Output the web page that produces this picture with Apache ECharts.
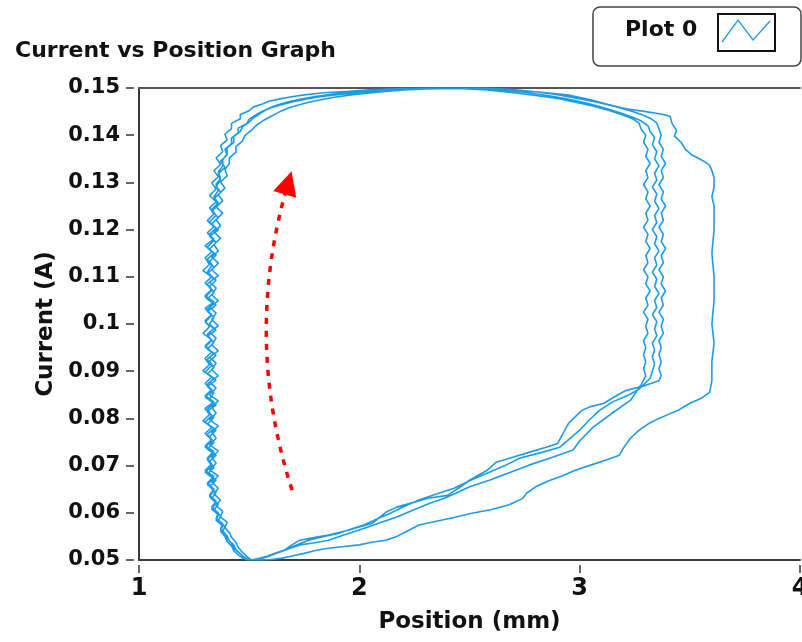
<!DOCTYPE html>
<html>
<head>
<meta charset="utf-8">
<script src="https://cdn.jsdelivr.net/npm/echarts@6/dist/echarts.min.js"></script>
<style>
html,body{margin:0;padding:0;background:#fff;}
#chart{width:802px;height:642px;}
</style>
</head>
<body>
<div id="chart"></div>
<script>
// ---- Data (position in mm, current in A) ----
const cycleOuter = [
  [1.52,0.0500],[1.50,0.0500],[1.47,0.0508],[1.45,0.0517],[1.43,0.0525],[1.42,0.0536],[1.40,0.0545],[1.39,0.0556],[1.37,0.0566],[1.38,0.0577],[1.35,0.0588],[1.36,0.0600],[1.33,0.0612],[1.35,0.0625],[1.32,0.0637],[1.34,0.0650],
  [1.31,0.0663],[1.34,0.0677],[1.30,0.0690],[1.33,0.0703],[1.31,0.0716],[1.34,0.0730],[1.30,0.0742],[1.33,0.0755],[1.30,0.0768],[1.33,0.0781],[1.29,0.0795],[1.32,0.0808],[1.30,0.0821],[1.34,0.0835],[1.30,0.0848],[1.33,0.0861],[1.30,0.0874],[1.33,0.0888],[1.29,0.0901],[1.32,0.0914],[1.30,0.0927],[1.33,0.0941],[1.30,0.0954],[1.33,0.0967],[1.29,0.0980],[1.32,0.0994],[1.30,0.1007],[1.33,0.1020],[1.30,0.1033],[1.34,0.1047],[1.30,0.1060],[1.33,0.1073],[1.30,0.1087],[1.33,0.1100],[1.29,0.1113],[1.32,0.1126],[1.30,0.1140],[1.33,0.1153],[1.30,0.1166],[1.34,0.1180],[1.31,0.1193],[1.34,0.1206],[1.31,0.1219],[1.34,0.1233],[1.32,0.1246],[1.35,0.1259],[1.32,0.1272],[1.35,0.1286],[1.33,0.1299],[1.36,0.1312],[1.34,0.1325],[1.37,0.1338],[1.35,0.1352],[1.38,0.1365],[1.37,0.1378],[1.40,0.1390],[1.39,0.1402],[1.42,0.1414],[1.42,0.1425],[1.46,0.1435],[1.46,0.1444],[1.50,0.1452],[1.52,0.1460],[1.56,0.1466],[1.59,0.1472],[1.64,0.1477],[1.70,0.1482],[1.76,0.1486],[1.84,0.1490],[1.95,0.1493],[2.05,0.1496],[2.20,0.1499],[2.35,0.1500],[2.50,0.1500],[2.62,0.1498],[2.75,0.1494],[2.85,0.1490],[2.95,0.1485],[3.05,0.1475],[3.13,0.1465],[3.21,0.1456],[3.30,0.1450],[3.38,0.1444],[3.41,0.1440],[3.42,0.1424],[3.44,0.1410],[3.43,0.1398],[3.46,0.1385],[3.48,0.1370],[3.51,0.1358],[3.56,0.1346],[3.59,0.1336],[3.60,0.1325],[3.61,0.1310],[3.61,0.1290],[3.60,0.1270],[3.61,0.1250],[3.61,0.1200],[3.60,0.1150],[3.61,0.1100],[3.61,0.1050],[3.60,0.1000],[3.61,0.0960],[3.60,0.0920],[3.60,0.0880],[3.59,0.0855],[3.55,0.0842],[3.50,0.0832],[3.45,0.0818],[3.40,0.0808],[3.36,0.0800],[3.31,0.0788],[3.27,0.0775],[3.23,0.0758],[3.20,0.0738],[3.18,0.0722],[3.12,0.0712],[3.05,0.0701],[2.98,0.0690],[2.92,0.0678],[2.86,0.0668],[2.80,0.0655],[2.76,0.0642],[2.74,0.0630],[2.68,0.0617],[2.60,0.0607],[2.50,0.0598],[2.44,0.0591],[2.36,0.0583],[2.27,0.0574],[2.22,0.0562],[2.17,0.0550],[2.12,0.0542],[2.05,0.0537],[2.00,0.0532],[1.92,0.0528],[1.86,0.0525],[1.80,0.0520],[1.75,0.0514],[1.70,0.0509],[1.65,0.0504],[1.60,0.0501],[1.55,0.0500]
];
const cycleInnerA = [
  [1.50,0.0500],[1.48,0.0505],[1.46,0.0513],[1.44,0.0522],[1.43,0.0532],[1.41,0.0540],[1.40,0.0551],[1.38,0.0560],[1.39,0.0571],[1.36,0.0582],[1.37,0.0594],[1.34,0.0606],[1.36,0.0618],[1.33,0.0630],[1.35,0.0643],
  [1.32,0.0656],[1.35,0.0669],[1.31,0.0682],[1.34,0.0696],[1.32,0.0709],[1.35,0.0722],[1.31,0.0735],[1.34,0.0749],[1.32,0.0762],[1.35,0.0775],[1.31,0.0788],[1.34,0.0802],[1.31,0.0815],[1.35,0.0828],[1.32,0.0841],[1.34,0.0855],[1.31,0.0868],[1.35,0.0881],[1.31,0.0894],[1.34,0.0908],[1.32,0.0921],[1.35,0.0934],[1.31,0.0947],[1.34,0.0961],[1.31,0.0974],[1.35,0.0987],[1.32,0.1000],[1.34,0.1014],[1.31,0.1027],[1.35,0.1040],[1.31,0.1053],[1.34,0.1067],[1.32,0.1080],[1.35,0.1093],[1.31,0.1106],[1.34,0.1120],[1.32,0.1133],[1.35,0.1146],[1.32,0.1159],[1.35,0.1173],[1.32,0.1186],[1.36,0.1199],[1.33,0.1212],[1.36,0.1226],[1.33,0.1239],[1.36,0.1252],[1.34,0.1265],[1.37,0.1279],[1.35,0.1292],[1.37,0.1305],[1.36,0.1318],[1.39,0.1332],[1.37,0.1345],[1.40,0.1358],[1.39,0.1370],[1.42,0.1382],[1.42,0.1394],[1.45,0.1405],[1.45,0.1415],[1.49,0.1425],[1.50,0.1434],[1.53,0.1443],[1.56,0.1451],[1.60,0.1458],[1.65,0.1465],[1.70,0.1471],[1.76,0.1477],[1.83,0.1482],[1.92,0.1487],[2.02,0.1491],[2.15,0.1495],[2.30,0.1498],[2.45,0.1499],[2.58,0.1496],[2.70,0.1490],[2.80,0.1484],[2.90,0.1478],[2.98,0.1470],[3.06,0.1462],[3.13,0.1453],[3.19,0.1444],[3.24,0.1435],[3.27,0.1425],[3.28,0.1412],[3.30,0.1400],
  [3.29,0.1385],[3.31,0.1370],[3.30,0.1355],[3.32,0.1340],[3.30,0.1325],[3.31,0.1310],[3.29,0.1295],[3.31,0.1280],[3.30,0.1265],[3.32,0.1250],[3.30,0.1235],[3.31,0.1220],[3.29,0.1205],[3.31,0.1190],[3.30,0.1175],[3.32,0.1160],[3.30,0.1145],[3.31,0.1130],[3.29,0.1115],[3.31,0.1100],[3.30,0.1085],[3.32,0.1070],[3.30,0.1055],[3.31,0.1040],[3.29,0.1025],[3.31,0.1010],[3.30,0.0995],[3.31,0.0980],[3.29,0.0965],[3.30,0.0950],[3.29,0.0935],[3.30,0.0920],[3.29,0.0905],[3.30,0.0890],
  [3.28,0.0872],[3.23,0.0838],[3.15,0.0812],[3.06,0.0781],[3.00,0.0752],[2.97,0.0733],[2.88,0.0718],[2.77,0.0701],[2.68,0.0685],[2.59,0.0669],[2.50,0.0655],[2.44,0.0642],[2.38,0.0630],[2.32,0.0620],[2.24,0.0605],[2.17,0.0591],[2.10,0.0580],[2.04,0.0570],[1.95,0.0556],[1.86,0.0542],[1.79,0.0536],[1.73,0.0532],[1.68,0.0524],[1.64,0.0517],[1.60,0.0510],[1.55,0.0504],[1.51,0.0500]
];
const cycleInnerB = [
  [1.51,0.0500],[1.49,0.0507],[1.47,0.0516],[1.45,0.0527],[1.44,0.0537],[1.42,0.0548],[1.41,0.0558],[1.39,0.0569],[1.40,0.0580],[1.37,0.0591],[1.38,0.0603],[1.35,0.0615],[1.37,0.0627],[1.34,0.0640],
  [1.36,0.0652],[1.33,0.0665],[1.36,0.0678],[1.32,0.0691],[1.35,0.0705],[1.33,0.0718],[1.36,0.0731],[1.32,0.0744],[1.35,0.0758],[1.33,0.0771],[1.36,0.0784],[1.32,0.0797],[1.35,0.0811],[1.33,0.0824],[1.36,0.0837],[1.32,0.0850],[1.35,0.0864],[1.32,0.0877],[1.36,0.0890],[1.33,0.0903],[1.35,0.0917],[1.32,0.0930],[1.36,0.0943],[1.33,0.0956],[1.35,0.0970],[1.32,0.0983],[1.36,0.0996],[1.33,0.1009],[1.35,0.1023],[1.32,0.1036],[1.36,0.1049],[1.33,0.1062],[1.35,0.1076],[1.32,0.1089],[1.36,0.1102],[1.33,0.1115],[1.36,0.1129],[1.33,0.1142],[1.36,0.1155],[1.34,0.1168],[1.37,0.1182],[1.34,0.1195],[1.37,0.1208],[1.35,0.1221],[1.38,0.1235],[1.35,0.1248],[1.38,0.1261],[1.36,0.1274],[1.39,0.1288],[1.37,0.1301],[1.40,0.1314],[1.39,0.1327],[1.41,0.1340],[1.41,0.1352],[1.44,0.1364],[1.44,0.1376],[1.47,0.1388],[1.48,0.1399],[1.51,0.1410],[1.53,0.1420],[1.56,0.1430],[1.60,0.1440],[1.64,0.1450],[1.68,0.1458],[1.74,0.1466],[1.80,0.1473],[1.88,0.1480],[1.97,0.1486],[2.08,0.1491],[2.20,0.1496],[2.35,0.1499],[2.50,0.1500],[2.62,0.1497],[2.73,0.1492],[2.84,0.1485],[2.94,0.1477],[3.03,0.1468],[3.11,0.1458],[3.18,0.1448],[3.24,0.1438],[3.28,0.1430],[3.31,0.1420],[3.32,0.1408],[3.34,0.1395],
  [3.33,0.1380],[3.35,0.1365],[3.34,0.1350],[3.36,0.1335],[3.34,0.1320],[3.35,0.1305],[3.33,0.1290],[3.35,0.1275],[3.34,0.1260],[3.36,0.1245],[3.34,0.1230],[3.35,0.1215],[3.33,0.1200],[3.35,0.1185],[3.34,0.1170],[3.36,0.1155],[3.34,0.1140],[3.35,0.1125],[3.33,0.1110],[3.35,0.1095],[3.34,0.1080],[3.36,0.1065],[3.34,0.1050],[3.35,0.1035],[3.33,0.1020],[3.35,0.1005],[3.34,0.0990],[3.35,0.0975],[3.33,0.0960],[3.34,0.0945],[3.33,0.0930],[3.34,0.0915],[3.33,0.0900],
  [3.32,0.0885],[3.27,0.0862],[3.22,0.0849],[3.15,0.0835],[3.09,0.0817],[3.04,0.0795],[3.00,0.0775],[2.95,0.0755],[2.91,0.0739],[2.82,0.0727],[2.73,0.0716],[2.66,0.0700],[2.59,0.0686],[2.51,0.0670],[2.43,0.0652],[2.35,0.0640],[2.27,0.0627],[2.20,0.0613],[2.14,0.0599],[2.08,0.0587],[2.02,0.0574],[1.96,0.0565],[1.91,0.0557],[1.84,0.0550],[1.77,0.0542],[1.72,0.0533],[1.68,0.0525],[1.63,0.0516],[1.59,0.0508],[1.55,0.0502],[1.52,0.0500]
];
const cycleInnerC = [
  [1.49,0.0500],[1.47,0.0504],[1.45,0.0511],[1.43,0.0520],[1.42,0.0530],[1.40,0.0539],[1.39,0.0550],[1.37,0.0561],[1.38,0.0572],[1.35,0.0584],[1.36,0.0596],[1.33,0.0608],[1.35,0.0621],[1.32,0.0634],[1.34,0.0647],
  [1.31,0.0660],[1.34,0.0673],[1.30,0.0686],[1.33,0.0700],[1.31,0.0713],[1.34,0.0726],[1.30,0.0739],[1.33,0.0753],[1.31,0.0766],[1.34,0.0779],[1.30,0.0792],[1.33,0.0806],[1.31,0.0819],[1.34,0.0832],[1.30,0.0845],[1.33,0.0859],[1.31,0.0872],[1.34,0.0885],[1.30,0.0898],[1.33,0.0912],[1.31,0.0925],[1.34,0.0938],[1.30,0.0951],[1.33,0.0965],[1.31,0.0978],[1.34,0.0991],[1.30,0.1004],[1.33,0.1018],[1.31,0.1031],[1.34,0.1044],[1.30,0.1057],[1.33,0.1071],[1.31,0.1084],[1.34,0.1097],[1.31,0.1110],[1.33,0.1124],[1.31,0.1137],[1.34,0.1150],[1.31,0.1163],[1.34,0.1177],[1.32,0.1190],[1.35,0.1203],[1.32,0.1216],[1.35,0.1230],[1.33,0.1243],[1.36,0.1256],[1.34,0.1269],[1.36,0.1283],[1.35,0.1296],[1.37,0.1309],[1.36,0.1322],[1.38,0.1335],[1.38,0.1348],[1.40,0.1361],[1.40,0.1373],[1.43,0.1385],[1.43,0.1397],[1.46,0.1408],[1.47,0.1418],[1.50,0.1428],[1.52,0.1437],[1.55,0.1446],[1.58,0.1455],[1.62,0.1463],[1.67,0.1470],[1.73,0.1476],[1.80,0.1482],[1.88,0.1487],[1.98,0.1492],[2.10,0.1496],[2.25,0.1499],[2.40,0.1500],[2.55,0.1500],[2.68,0.1497],[2.80,0.1492],[2.90,0.1486],[2.99,0.1478],[3.08,0.1470],[3.16,0.1461],[3.23,0.1452],[3.28,0.1444],[3.32,0.1436],[3.35,0.1426],[3.36,0.1413],[3.37,0.1400],
  [3.36,0.1385],[3.38,0.1370],[3.37,0.1355],[3.39,0.1340],[3.37,0.1325],[3.38,0.1310],[3.36,0.1295],[3.38,0.1280],[3.37,0.1265],[3.39,0.1250],[3.37,0.1235],[3.38,0.1220],[3.36,0.1205],[3.38,0.1190],[3.37,0.1175],[3.39,0.1160],[3.37,0.1145],[3.38,0.1130],[3.36,0.1115],[3.38,0.1100],[3.37,0.1085],[3.39,0.1070],[3.37,0.1055],[3.38,0.1040],[3.36,0.1025],[3.38,0.1010],[3.37,0.0995],[3.38,0.0980],[3.36,0.0965],[3.37,0.0950],[3.36,0.0935],[3.37,0.0920],[3.36,0.0905],[3.37,0.0891],
  [3.36,0.0880],[3.30,0.0870],[3.21,0.0859],[3.17,0.0849],[3.11,0.0832],[3.05,0.0825],[3.01,0.0817],[2.95,0.0790],[2.90,0.0747],[2.84,0.0738],[2.77,0.0728],[2.70,0.0718],[2.62,0.0707],[2.58,0.0690],[2.50,0.0669],[2.45,0.0652],[2.40,0.0637],[2.31,0.0631],[2.23,0.0620],[2.17,0.0612],[2.12,0.0601],[2.06,0.0578],[2.00,0.0570],[1.95,0.0563],[1.86,0.0553],[1.80,0.0548],[1.73,0.0542],[1.69,0.0531],[1.66,0.0521],[1.61,0.0513],[1.57,0.0506],[1.52,0.0501],[1.49,0.0500]
];
// red annotation arrow (data coordinates): start, end
const arrowStart = [1.695, 0.0648];
const arrowEnd = [1.677, 0.1299];

const titleText = 'Current vs Position Graph';
const seriesName = 'Plot 0';
const xName = 'Position (mm)';
const yName = 'Current (A)';

const plotData = [].concat(cycleOuter, cycleInnerA, cycleInnerB, cycleInnerC);

const FONT = 'DejaVu Sans';
const BLUE = '#1E9BE6';
const chart = echarts.init(document.getElementById('chart'), null, {renderer: 'canvas'});

chart.setOption({
  animation: false,
  backgroundColor: '#ffffff',
  title: {
    text: titleText, left: 10, top: 35,
    textStyle: {fontFamily: FONT, fontWeight: 'bold', fontSize: 22, color: '#111'}
  },
  grid: {left: 139, right: 2, top: 88, bottom: 82, containLabel: false, outerBoundsMode: 'none'},
  xAxis: [
    {
      type: 'value', min: 1, max: 4, interval: 1, position: 'bottom',
      axisLine: {show: true, lineStyle: {color: '#3a3a3a', width: 2}},
      axisTick: {show: true, length: 13, lineStyle: {color: '#333', width: 1.5, type: [8, 5], dashOffset: 8}},
      axisLabel: {margin: 17, fontFamily: FONT, fontWeight: 'bold', fontSize: 24, color: '#111', hideOverlap: false},
      splitLine: {show: false},
      name: xName, nameLocation: 'middle', nameGap: 51,
      nameTextStyle: {fontFamily: FONT, fontWeight: 'bold', fontSize: 23, color: '#111'}
    },
    {
      type: 'value', min: 1, max: 4, interval: 1, position: 'top',
      axisLine: {show: true, lineStyle: {color: '#555', width: 2}},
      axisTick: {show: false}, axisLabel: {show: false}, splitLine: {show: false}
    }
  ],
  yAxis: {
    type: 'value', min: 0.05, max: 0.15, interval: 0.01, position: 'left',
    axisLine: {show: true, lineStyle: {color: '#3a3a3a', width: 2}},
    axisTick: {show: true, length: 13, lineStyle: {color: '#333', width: 1.5, type: [8, 5], dashOffset: 8}},
    axisLabel: {
      margin: 19, fontFamily: FONT, fontWeight: 'bold', fontSize: 21, color: '#111',
      formatter: function (v) { return String(Math.round(v * 100) / 100); }
    },
    splitLine: {show: false},
    name: yName, nameLocation: 'middle', nameRotate: 90, nameGap: 80,
    nameTextStyle: {fontFamily: FONT, fontWeight: 'bold', fontSize: 23, color: '#111'}
  },
  graphic: [
    {type: 'rect', shape: {x: 593, y: 7, width: 208, height: 59, r: 7},
     style: {fill: '#fff', stroke: '#444', lineWidth: 1.5}, z: 100},
    {type: 'text', x: 625, y: 30, style: {text: seriesName, font: 'bold 22px "DejaVu Sans"', fill: '#111', verticalAlign: 'middle'}, z: 101},
    {type: 'rect', shape: {x: 718, y: 14, width: 57, height: 37},
     style: {fill: '#fff', stroke: '#111', lineWidth: 2}, z: 101},
    {type: 'polyline', shape: {points: [[722, 42], [738, 20], [753, 40], [770, 21]]},
     style: {stroke: BLUE, lineWidth: 1.3, fill: null}, z: 102}
  ],
  series: [
    {
      name: seriesName, type: 'line', data: plotData,
      showSymbol: false, symbol: 'none', smooth: false, clip: true,
      lineStyle: {color: BLUE, width: 1.6}
    },
    {
      type: 'lines', coordinateSystem: 'cartesian2d', z: 5,
      symbol: ['none', 'triangle'], symbolSize: 24,
      lineStyle: {color: '#ff0000', width: 3.5, type: [6, 7], curveness: 0.155, opacity: 1},
      data: [{coords: [arrowStart, arrowEnd]}]
    }
  ]
});
</script>
</body>
</html>
